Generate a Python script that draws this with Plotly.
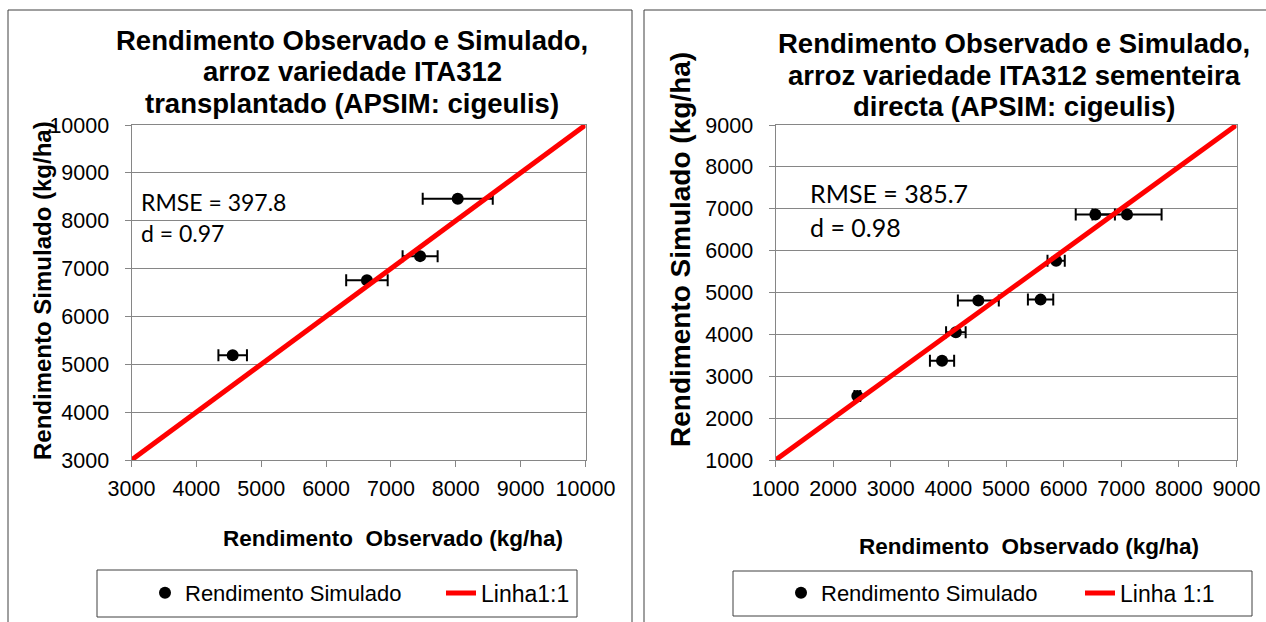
import plotly.graph_objects as go

W, H = 1266, 622

# ---- data ----
left_obs = [4560, 6630, 7450, 8030]
left_sim = [5190, 6755, 7260, 8460]
left_err = [220, 320, 270, 540]
left_line = [3000, 10000]
left_ticks = list(range(3000, 10001, 1000))

right_obs = [2420, 3890, 4130, 4520, 5600, 5870, 6550, 7100]
right_sim = [2530, 3370, 4050, 4810, 4830, 5760, 6860, 6860]
right_err = [50, 210, 170, 355, 220, 150, 340, 600]
right_line = [1000, 9000]
right_ticks = list(range(1000, 9001, 1000))

left_title = ["Rendimento Observado e Simulado,", "arroz variedade ITA312",
              "transplantado (APSIM: cigeulis)"]
right_title = ["Rendimento Observado e Simulado,", "arroz variedade ITA312 sementeira",
               "directa (APSIM: cigeulis)"]
left_stats = ["RMSE = 397.8", "d = 0.97"]
right_stats = ["RMSE = 385.7", "d = 0.98"]
xlab = "Rendimento  Observado (kg/ha)"
ylab = "Rendimento Simulado (kg/ha)"


def px(x):
    return x / W


def py(y):
    return 1 - y / H


fig = go.Figure()

# left panel
fig.add_trace(go.Scatter(
    x=left_obs, y=left_sim, mode="markers", name="Rendimento Simulado",
    marker=dict(color="black", size=12),
    error_x=dict(type="data", array=left_err, color="black", thickness=2, width=6),
    xaxis="x", yaxis="y", legend="legend"))
fig.add_trace(go.Scatter(
    x=left_line, y=left_line, mode="lines", name="Linha1:1",
    line=dict(color="#ff0000", width=5), xaxis="x", yaxis="y", legend="legend2",
    cliponaxis=False))

# right panel
fig.add_trace(go.Scatter(
    x=right_obs, y=right_sim, mode="markers", name="Rendimento Simulado",
    marker=dict(color="black", size=12),
    error_x=dict(type="data", array=right_err, color="black", thickness=2, width=6),
    xaxis="x2", yaxis="y2", legend="legend3"))
fig.add_trace(go.Scatter(
    x=right_line, y=right_line, mode="lines", name="Linha 1:1",
    line=dict(color="#ff0000", width=5), xaxis="x2", yaxis="y2", legend="legend4",
    cliponaxis=False))

tickfont = dict(family="Liberation Sans, Arial", size=21.5, color="#000000")
axcol = "#868686"


def xaxis(dom, rng, ticks, anchor):
    return dict(domain=dom, range=rng, tickvals=ticks, tickformat="d", anchor=anchor,
                showline=True, linecolor=axcol, linewidth=1, mirror=True,
                ticks="outside", ticklen=6, tickcolor=axcol, showgrid=False,
                zeroline=False, tickfont=tickfont, ticklabelstandoff=3,
                fixedrange=True, automargin=False)


def yaxis(dom, rng, ticks, anchor):
    return dict(domain=dom, range=rng, tickvals=ticks, tickformat="d", anchor=anchor,
                showline=True, linecolor=axcol, linewidth=1, mirror=True,
                ticks="outside", ticklen=6, tickcolor=axcol, showgrid=True,
                gridcolor=axcol, gridwidth=1, zeroline=False, tickfont=tickfont,
                ticklabelstandoff=11, fixedrange=True, automargin=False)


def legend(x, size=22):
    return dict(orientation="h", x=px(x), y=py(593), xanchor="left", yanchor="middle",
                bgcolor="rgba(0,0,0,0)", itemsizing="constant",
                font=dict(family="Liberation Sans, Arial", size=size, color="#000"))


ydom = [py(460), py(125)]
fig.update_layout(
    width=W, height=H, margin=dict(l=0, r=0, t=0, b=0, autoexpand=False),
    paper_bgcolor="white", plot_bgcolor="white",
    xaxis=xaxis([px(131.5), px(585.5)], left_line, left_ticks, "y"),
    yaxis=yaxis(ydom, left_line, left_ticks, "x"),
    xaxis2=xaxis([px(775.5), px(1236.5)], right_line, right_ticks, "y2"),
    yaxis2=yaxis(ydom, right_line, right_ticks, "x2"),
    legend=legend(145),
    legend2=legend(441, 23),
    legend3=legend(781),
    legend4=legend(1080, 23),
    showlegend=True,
)

shapes = [
    dict(type="rect", xref="paper", yref="paper", x0=px(8), x1=px(632), y0=py(640), y1=py(10),
         line=dict(color="#404040", width=1)),
    dict(type="rect", xref="paper", yref="paper", x0=px(644), x1=px(1275), y0=py(640), y1=py(10),
         line=dict(color="#404040", width=1)),
    dict(type="rect", xref="paper", yref="paper", x0=px(97), x1=px(577), y0=py(617), y1=py(570),
         line=dict(color="#404040", width=1)),
    dict(type="rect", xref="paper", yref="paper", x0=px(733), x1=px(1252), y0=py(616), y1=py(571),
         line=dict(color="#404040", width=1)),
]
fig.update_layout(shapes=shapes)

ann = []
titlefont = dict(family="Liberation Sans, Arial", size=27.5, color="#000")
for i, t in enumerate(left_title):
    ann.append(dict(text="<b>%s</b>" % t, x=px(352), y=py(40 + 31.5 * i), xref="paper", yref="paper",
                    showarrow=False, xanchor="center", yanchor="middle", font=titlefont))
for i, t in enumerate(right_title):
    ann.append(dict(text="<b>%s</b>" % t, x=px(1014), y=py(44 + 31.5 * i), xref="paper", yref="paper",
                    showarrow=False, xanchor="center", yanchor="middle", font=titlefont))

for i, t in enumerate(left_stats):
    ann.append(dict(text=t, x=px(139), y=py(202 + 31 * i), xref="paper", yref="paper",
                    showarrow=False, xanchor="left", yanchor="middle",
                    font=dict(family="Lato, Open Sans", size=23, color="#000")))
for i, t in enumerate(right_stats):
    ann.append(dict(text=t, x=px(808), y=py(193 + 34 * i), xref="paper", yref="paper",
                    showarrow=False, xanchor="left", yanchor="middle",
                    font=dict(family="Lato, Open Sans", size=25, color="#000")))

labfont = dict(family="Liberation Sans, Arial", size=22.5, color="#000")
ann.append(dict(text="<b>%s</b>" % xlab, x=px(393), y=py(538), xref="paper", yref="paper",
                showarrow=False, xanchor="center", yanchor="middle", font=labfont))
ann.append(dict(text="<b>%s</b>" % xlab, x=px(1029), y=py(546), xref="paper", yref="paper",
                showarrow=False, xanchor="center", yanchor="middle", font=labfont))
ann.append(dict(text="<b>%s</b>" % ylab, x=px(42), y=py(291), xref="paper", yref="paper",
                showarrow=False, xanchor="center", yanchor="middle", textangle=-90,
                font=dict(family="Liberation Sans, Arial", size=24, color="#000")))
ann.append(dict(text="<b>%s</b>" % ylab, x=px(680), y=py(250), xref="paper", yref="paper",
                showarrow=False, xanchor="center", yanchor="middle", textangle=-90,
                font=dict(family="Liberation Sans, Arial", size=28, color="#000")))
fig.update_layout(annotations=ann)

fig.write_html("out.html")
